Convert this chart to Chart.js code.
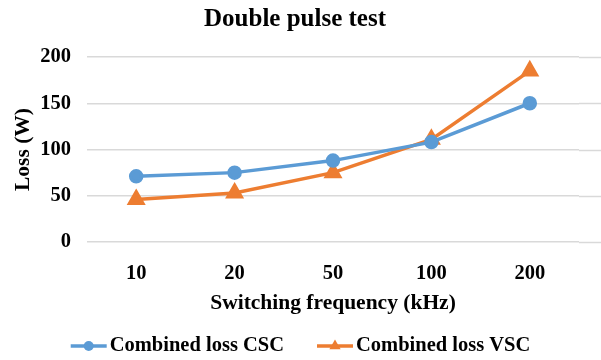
<!DOCTYPE html>
<html>
<head>
<meta charset="utf-8">
<script src="https://cdn.jsdelivr.net/npm/chart.js@4/dist/chart.umd.min.js"></script>
<style>
	html, body { margin: 0; padding: 0; background: #fff; }
	#wrap { width: 601px; height: 360px; }
</style>
</head>
<body>
<div id="wrap"><canvas id="chart" width="601" height="360"></canvas></div>
<script>
const frequencies = ["10", "20", "50", "100", "200"];
const cscLoss = [71, 75, 88, 108, 150];
const vscLoss = [46, 53, 75, 111, 185];
const yTicks = [0, 50, 100, 150, 200];

const blue = "#5B9BD5";
const orange = "#ED7D31";
const serif = "'Liberation Serif', 'Times New Roman', serif";
const legendFont = "bold 20.5px " + serif;

// gridlines run on to the right edge of the picture
const gridRunOn = {
	id: "gridRunOn",
	beforeDatasetsDraw(chart) {
		const {ctx, chartArea, scales} = chart;
		ctx.save();
		ctx.strokeStyle = "#D9D9D9";
		ctx.lineWidth = 1.5;
		scales.y.ticks.forEach(t => {
			const y = Math.round(scales.y.getPixelForValue(t.value)) + 0.5;
			ctx.beginPath();
			ctx.moveTo(chartArea.right, y);
			ctx.lineTo(chart.width, y);
			ctx.stroke();
		});
		ctx.restore();
	}
};

// legend: line with the marker on it, then the label
const lineLegend = {
	id: "lineLegend",
	afterDraw(chart) {
		const ctx = chart.ctx;
		const y = 346;
		const iconW = 36, textGap = 3, itemGap = 33;
		ctx.save();
		ctx.font = legendFont;
		const widths = chart.data.datasets.map(ds => ctx.measureText(ds.label).width);
		const total = widths.reduce((a, w) => a + iconW + textGap + w, 0) + itemGap * (widths.length - 1);
		let x = (chart.width - total) / 2;
		chart.data.datasets.forEach((ds, i) => {
			ctx.strokeStyle = ds.borderColor;
			ctx.fillStyle = ds.backgroundColor;
			ctx.lineWidth = 3.5;
			ctx.beginPath();
			ctx.moveTo(x, y);
			ctx.lineTo(x + iconW, y);
			ctx.stroke();
			Chart.helpers.drawPoint(ctx, {
				pointStyle: ds.pointStyle,
				radius: ds.pointStyle == "triangle" ? 6.5 : 5,
				borderWidth: 0,
				rotation: 0,
			}, x + iconW / 2, y);
			ctx.fillStyle = "#000";
			ctx.textBaseline = "middle";
			ctx.textAlign = "left";
			ctx.fillText(ds.label, x + iconW + textGap, y);
			x += iconW + textGap + widths[i] + itemGap;
		});
		ctx.restore();
	}
};

const config = {
	type: "line",
	data: {
		labels: frequencies,
		datasets: [
			{
				label: "Combined loss CSC",
				data: cscLoss,
				borderColor: blue,
				backgroundColor: blue,
				borderWidth: 3.5,
				pointStyle: "circle",
				pointRadius: 5.5,
				pointHoverRadius: 5.5,
				tension: 0,
			},
			{
				label: "Combined loss VSC",
				data: vscLoss,
				borderColor: orange,
				backgroundColor: orange,
				borderWidth: 3.5,
				pointStyle: "triangle",
				pointRadius: 7.5,
				pointHoverRadius: 7.5,
				tension: 0,
			},
		],
	},
	plugins: [gridRunOn, lineLegend],
	options: {
		responsive: false,
		animation: false,
		layout: {
			padding: { left: 11, right: 22, top: 4, bottom: 44 },
		},
		plugins: {
			title: {
				display: true,
				text: "Double pulse test",
				color: "#000",
				font: { family: serif, size: 25, weight: "bold" },
				padding: { top: 1, bottom: 22 },
			},
			legend: { display: false },
			tooltip: { enabled: false },
		},
		scales: {
			x: {
				offset: true,
				grid: { display: false },
				border: { display: false },
				ticks: {
					color: "#000",
					font: { family: serif, size: 20.5, weight: "bold" },
					padding: 11,
				},
				title: {
					display: true,
					text: "Switching frequency (kHz)",
					color: "#000",
					font: { family: serif, size: 21.5, weight: "bold" },
					padding: { top: 6, bottom: 0 },
				},
				afterFit: (axis) => { axis.height = 74; },
			},
			y: {
				min: 0,
				max: 200,
				afterBuildTicks: (axis) => { axis.ticks = yTicks.map(v => ({ value: v })); },
				grid: { color: "#D9D9D9", lineWidth: 1.5, drawTicks: false },
				border: { display: false },
				ticks: {
					color: "#000",
					font: { family: serif, size: 20.5, weight: "bold" },
					padding: 16,
				},
				title: {
					display: true,
					text: "Loss (W)",
					color: "#000",
					font: { family: serif, size: 21.5, weight: "bold" },
					padding: { top: 0, bottom: 4 },
				},
				afterFit: (axis) => { axis.width = 76; },
			},
		},
	},
};

new Chart(document.getElementById("chart").getContext("2d"), config);
</script>
</body>
</html>
